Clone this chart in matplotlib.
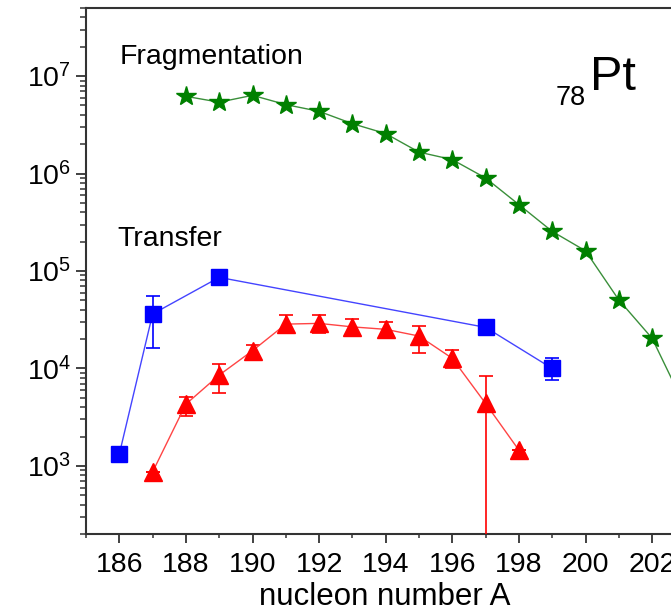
import matplotlib
matplotlib.use("Agg")
import matplotlib.pyplot as plt
from matplotlib.ticker import LogLocator, MultipleLocator, NullFormatter
import numpy as np

plt.rcParams['font.family'] = ['Liberation Sans', 'DejaVu Sans']
plt.rcParams['mathtext.fontset'] = 'custom'
plt.rcParams['mathtext.rm'] = 'Liberation Sans'
plt.rcParams['mathtext.it'] = 'Liberation Sans'

# Fragmentation (green stars)
frag_A = [188, 189, 190, 191, 192, 193, 194, 195, 196, 197, 198, 199, 200, 201, 202, 203]
frag_Y = [6.2e6, 5.4e6, 6.35e6, 5.1e6, 4.35e6, 3.25e6, 2.57e6, 1.66e6, 1.39e6, 9.0e5,
          4.8e5, 2.55e5, 1.61e5, 5.05e4, 2.04e4, 4.0e3]

# Transfer (blue squares)
blue_A = [186, 187, 189, 197, 199]
blue_Y = [1.32e3, 3.62e4, 8.6e4, 2.64e4, 1.0e4]
blue_lo = [1.32e3, 1.64e4, 8.6e4, 2.64e4, 7.6e3]
blue_hi = [1.32e3, 5.6e4, 8.6e4, 2.64e4, 1.27e4]

# Transfer (red triangles)
red_A = [187, 188, 189, 190, 191, 192, 193, 194, 195, 196, 197, 198]
red_Y = [867, 4.3e3, 8.55e3, 1.52e4, 2.85e4, 2.9e4, 2.67e4, 2.52e4, 2.15e4, 1.27e4, 4.37e3, 1.45e3]
red_lo = [867, 3.25e3, 5.55e3, 1.22e4, 2.29e4, 2.32e4, 2.15e4, 2.04e4, 1.43e4, 1.0e4, 1.0, 1.45e3]
red_hi = [867, 5.1e3, 1.11e4, 1.74e4, 3.5e4, 3.5e4, 3.2e4, 3.0e4, 2.75e4, 1.54e4, 8.36e3, 1.45e3]

xticks = [186, 188, 190, 192, 194, 196, 198, 200, 202]

W, H = 671, 612
fig = plt.figure(figsize=(W / 100, H / 100), dpi=100)
left_px, bottom_px, top_px = 86, 534, 8
x0, x1 = 185, 203
unit = 33.3
width_px = (x1 - x0) * unit
ax = fig.add_axes([left_px / W, (H - bottom_px) / H, width_px / W, (bottom_px - top_px) / H])

ax.set_yscale('log')

ax.plot(frag_A, frag_Y, color='#3a8f3a', lw=1.0, zorder=2)
ax.plot(frag_A, frag_Y, ls='none', marker='*', ms=15, color='#008000', mec='#008000', zorder=3)

def errs(y, lo, hi):
    y = np.array(y); lo = np.array(lo); hi = np.array(hi)
    return np.vstack([y - lo, hi - y])

ax.errorbar(blue_A, blue_Y, yerr=errs(blue_Y, blue_lo, blue_hi), color='#4444ff', lw=1.0,
            marker='s', ms=11, mfc='#0000ff', mec='#0000ff', ecolor='#0000ff',
            elinewidth=1.2, capsize=5, capthick=1.2, zorder=3)
ax.errorbar(red_A, red_Y, yerr=errs(red_Y, red_lo, red_hi), color='#ff4444', lw=1.0,
            marker='^', ms=13, mfc='#ff0000', mec='#ff0000', ecolor='#ff0000',
            elinewidth=1.2, capsize=5, capthick=1.2, zorder=3)

ax.set_xlim(x0, x1)
ax.set_ylim(200, 5e7)
ax.set_xticks(xticks)
ax.xaxis.set_minor_locator(MultipleLocator(1))
ax.yaxis.set_major_locator(LogLocator(base=10, numticks=20))
ax.yaxis.set_minor_locator(LogLocator(base=10, subs=np.arange(2, 10), numticks=40))
ax.yaxis.set_minor_formatter(NullFormatter())

ax.tick_params(axis='both', which='both', direction='out', color='#333333', labelsize=20.5)
ax.tick_params(axis='x', which='major', length=6.3, width=1.3, pad=6.4)
ax.tick_params(axis='x', which='minor', length=3.2, width=1.1)
ax.tick_params(axis='y', which='major', length=7.2, width=1.3, pad=3.5)
ax.tick_params(axis='y', which='minor', length=4.3, width=1.1)

for s in ['left', 'bottom', 'top']:
    ax.spines[s].set_linewidth(1.5)
    ax.spines[s].set_color('#333333')
ax.spines['right'].set_visible(False)

fig.text(384.5 / W, 1 - 605 / H, 'nucleon number A', fontsize=22.5, va='baseline', ha='center')

fig.text(120 / W, 1 - 64 / H, 'Fragmentation', fontsize=20.5, va='baseline', ha='left')
fig.text(117 / W, 1 - 246 / H, 'Transfer', fontsize=20.5, va='baseline', ha='left')
fig.text(556 / W, 1 - 105 / H, '78', fontsize=19.5, va='baseline', ha='left')
fig.text(590 / W, 1 - 90 / H, 'Pt', fontsize=35, va='baseline', ha='left')

fig.savefig('out.png', dpi=100)
